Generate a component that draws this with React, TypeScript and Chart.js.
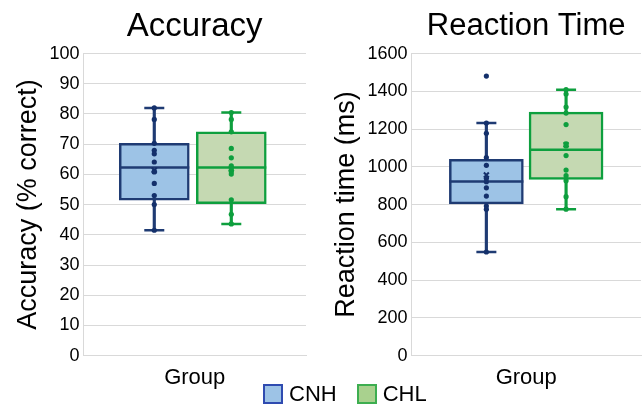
import React, { useEffect, useRef } from "react";
import { Chart, registerables } from "chart.js";

Chart.register(...registerables);

const FONT = "'Liberation Sans', Arial, sans-serif";

// ---- data ----
const groups = ["CNH", "CHL"];
const groupX = [1, 2];

const accLow = [41.5, 43.6];
const accQ1 = [51.5, 50.3];
const accMedian = [62.3, 62.3];
const accQ3 = [70.3, 74.1];
const accHigh = [82.0, 80.5];
const accMean = [61.4, 61.8];
const accPointsCNH = [82.0, 78.2, 70.3, 68.0, 66.8, 64.1, 61.0, 60.8, 57.0, 53.0, 50.0, 41.5];
const accPointsCHL = [80.5, 78.2, 74.1, 68.6, 65.5, 62.8, 61.8, 61.0, 60.1, 51.6, 46.8, 43.6];
const accTicks = [0, 10, 20, 30, 40, 50, 60, 70, 80, 90, 100];

const rtLow = [549, 776];
const rtQ1 = [804, 934];
const rtMedian = [923, 1091];
const rtQ3 = [1040, 1290];
const rtHigh = [1232, 1409];
const rtMean = [957, 1117];
const rtPointsCNH = [1481, 1232, 1178, 1049, 1008, 939, 921, 889, 845, 792, 775, 549];
const rtPointsCHL = [1409, 1386, 1317, 1285, 1224, 1122, 1111, 1060, 983, 953, 927, 842, 776];
const rtTicks = [0, 200, 400, 600, 800, 1000, 1200, 1400, 1600];

// ---- styles ----
const borderColors = ["#1F3B73", "#0E9F3E"];
const fillColors = ["#9DC3E6", "#C5D9B2"];
const pointColors = ["#14306B", "#0E9F3E"];
const legendFill = ["#9DC3E6", "#A9D18E"];
const legendBorder = ["#2F4BB0", "#3DAE50"];

type PanelSpec = {
  title: string;
  titleSize: number;
  yTitle: string;
  low: number[];
  q1: number[];
  median: number[];
  q3: number[];
  high: number[];
  mean: number[];
  points: number[][];
  ticks: number[];
  boxWidth: number;
  xMin: number;
  xMax: number;
  padding: { left: number; right: number; top: number; bottom: number };
};

function buildConfig(p: PanelSpec): any {
  const pt = (vals: number[]) => vals.map((v, g) => ({ x: groupX[g], y: v }));
  const datasets: any[] = [];
  p.points.forEach((arr, g) => {
    datasets.push({
      type: "line",
      label: groups[g] + " points",
      data: arr.map((v) => ({ x: groupX[g], y: v })),
      showLine: false,
      pointRadius: 2.6,
      pointBackgroundColor: pointColors[g],
      pointBorderColor: pointColors[g],
      pointBorderWidth: 0,
      order: 0,
    });
  });
  datasets.push({
    type: "line",
    label: "mean",
    data: pt(p.mean),
    showLine: false,
    pointStyle: "crossRot",
    pointRadius: 3.5,
    pointBorderColor: pointColors,
    pointBorderWidth: 2,
    order: 0,
  });
  datasets.push({
    type: "line",
    label: "median",
    data: pt(p.median),
    showLine: false,
    pointStyle: "line",
    pointRadius: p.boxWidth / 2,
    pointBorderColor: borderColors,
    pointBorderWidth: 2.5,
    order: 1,
  });
  datasets.push({
    type: "line",
    label: "caps",
    data: [...pt(p.low), ...pt(p.high)],
    showLine: false,
    pointStyle: "line",
    pointRadius: 10,
    pointBorderColor: [...borderColors, ...borderColors],
    pointBorderWidth: 2.5,
    order: 2,
  });
  datasets.push({
    type: "bar",
    label: "box",
    data: p.q1.map((v, g) => ({ x: groupX[g], y: [v, p.q3[g]] })),
    backgroundColor: fillColors,
    borderColor: borderColors,
    borderWidth: 2.5,
    borderSkipped: false,
    barThickness: p.boxWidth,
    stack: "g",
    order: 3,
  });
  datasets.push({
    type: "bar",
    label: "whisker",
    data: p.low.map((v, g) => ({ x: groupX[g], y: [v, p.high[g]] })),
    backgroundColor: borderColors,
    borderWidth: 0,
    barThickness: 2.5,
    stack: "g",
    order: 4,
  });

  const tickMax = p.ticks[p.ticks.length - 1];
  const step = p.ticks[1] - p.ticks[0];

  return {
    type: "bar",
    data: { datasets },
    options: {
      animation: false,
      responsive: true,
      maintainAspectRatio: false,
      layout: { padding: p.padding, autoPadding: false },
      plugins: {
        legend: { display: false },
        tooltip: { enabled: false },
        title: {
          display: true,
          fullSize: false,
          text: p.title,
          color: "#000",
          font: { family: FONT, size: p.titleSize, weight: "normal", lineHeight: 39.6 / p.titleSize },
          padding: { top: 7, bottom: 7 },
        },
      },
      scales: {
        x: {
          type: "linear",
          min: p.xMin,
          max: p.xMax,
          offset: false,
          stacked: true,
          grid: { display: false, offset: false },
          border: { display: true, color: "#D9D9D9" },
          ticks: { display: false },
          title: {
            display: true,
            text: "Group",
            color: "#000",
            font: { family: FONT, size: 22 },
            padding: { top: 1, bottom: 0 },
          },
        },
        y: {
          type: "linear",
          min: p.ticks[0],
          max: tickMax,
          stacked: false,
          grid: { color: "#D9D9D9", lineWidth: 1, drawTicks: false },
          border: { display: true, color: "#D9D9D9" },
          ticks: {
            stepSize: step,
            color: "#000",
            padding: 4,
            font: { family: FONT, size: 18 },
            callback: (v: any) => String(v),
          },
          title: {
            display: true,
            text: p.yTitle,
            color: "#000",
            font: { family: FONT, size: 27 },
            padding: { top: 4, bottom: 1 },
          },
        },
      },
    },
  };
}

function Panel({ spec, left }: { spec: PanelSpec; left: number }) {
  const ref = useRef<HTMLCanvasElement | null>(null);
  useEffect(() => {
    if (!ref.current) return;
    const chart = new Chart(ref.current, buildConfig(spec));
    return () => chart.destroy();
  }, [spec]);
  return (
    <div style={{ position: "absolute", left, top: 0, width: 322, height: 407 }}>
      <canvas ref={ref} />
    </div>
  );
}

const accSpec: PanelSpec = {
  title: "Accuracy",
  titleSize: 33,
  yTitle: "Accuracy (% correct)",
  low: accLow,
  q1: accQ1,
  median: accMedian,
  q3: accQ3,
  high: accHigh,
  mean: accMean,
  points: [accPointsCNH, accPointsCHL],
  ticks: accTicks,
  boxWidth: 70,
  xMin: 0.08,
  xMax: 2.97,
  padding: { left: 8, right: 16, top: 0, bottom: 16 },
};

const rtSpec: PanelSpec = {
  title: "Reaction Time",
  titleSize: 31,
  yTitle: "Reaction time (ms)",
  low: rtLow,
  q1: rtQ1,
  median: rtMedian,
  q3: rtQ3,
  high: rtHigh,
  mean: rtMean,
  points: [rtPointsCNH, rtPointsCHL],
  ticks: rtTicks,
  boxWidth: 74,
  xMin: 0.06,
  xMax: 2.94,
  padding: { left: 4, right: 3, top: 0, bottom: 16 },
};

export default function App() {
  return (
    <div
      style={{
        position: "fixed",
        left: 0,
        top: 0,
        width: 644,
        height: 407,
        background: "#fff",
        fontFamily: FONT,
      }}
    >
      <Panel spec={accSpec} left={0} />
      <Panel spec={rtSpec} left={322} />
      <div
        style={{
          position: "absolute",
          left: 263,
          top: 382,
          height: 24,
          display: "flex",
          alignItems: "center",
          fontSize: 22,
          color: "#000",
          lineHeight: "24px",
        }}
      >
        {groups.map((g, i) => (
          <div key={g} style={{ display: "flex", alignItems: "center", marginRight: i === 0 ? 20 : 0 }}>
            <span
              style={{
                display: "inline-block",
                width: 16,
                height: 16,
                background: legendFill[i],
                border: `2px solid ${legendBorder[i]}`,
                marginRight: 6,
              }}
            />
            <span>{g}</span>
          </div>
        ))}
      </div>
    </div>
  );
}
